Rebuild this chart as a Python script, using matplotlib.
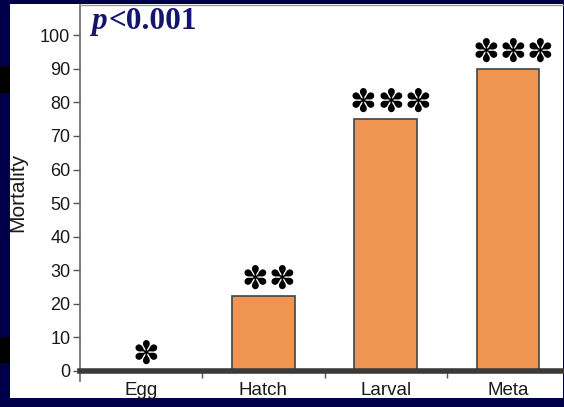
import matplotlib
matplotlib.use("Agg")
import matplotlib.pyplot as plt
from matplotlib.patches import Rectangle

# Data
stages = ["Egg", "Hatch", "Larval", "Meta"]
mortality = [0, 22.3, 75, 90]
stars = [1, 2, 3, 3]
y_ticks = list(range(0, 101, 10))
p_label = "<0.001"

W, H = 564, 407
fig = plt.figure(figsize=(W / 100, H / 100), dpi=100)
fig.patch.set_facecolor("#00004a")

# white panel and the two dark stripes on the left border
fig.patches.append(Rectangle((10 / W, 1 - 398 / H), 553 / W, 394 / H,
                             transform=fig.transFigure, facecolor="white",
                             edgecolor="none", zorder=-2))
for top, bot in [(66, 93), (337, 363)]:
    fig.patches.append(Rectangle((0, 1 - bot / H), 10 / W, (bot - top) / H,
                                 transform=fig.transFigure, facecolor="black",
                                 edgecolor="none", zorder=-2))

# axes: y=0 at 371px, 100 at 35px
ax = fig.add_axes([80 / W, 1 - 381 / H, 489 / W, 376 / H])
ax.set_facecolor("none")
ax.set_xlim(-0.5, 3.5)
ax.set_ylim(-3, 109)

x = list(range(len(stages)))
ax.bar(x, mortality, width=0.51, color="#ef9551", edgecolor="#444444",
       linewidth=1.2, zorder=2)

for xi, val, n in zip(x, mortality, stars):
    for k in range(n):
        dx = 3.5 + (k - (n - 1) / 2) * 19.5
        ax.annotate("\u273d", xy=(xi, val), xytext=(dx, 0),
                    textcoords="offset points", ha="center", va="bottom",
                    fontsize=23, color="black", family="DejaVu Sans", zorder=3)

# spines
ax.spines["bottom"].set_position(("data", 0))
ax.spines["bottom"].set_linewidth(4)
ax.spines["bottom"].set_color("#3a3a3a")
ax.spines["bottom"].set_zorder(4)
ax.spines["left"].set_linewidth(1.2)
ax.spines["left"].set_color("#666666")
ax.spines["top"].set_linewidth(1)
ax.spines["top"].set_color("#999999")
ax.spines["right"].set_visible(False)

ax.set_yticks(y_ticks)
ax.tick_params(axis="y", direction="out", length=5, width=1, color="#555555",
               pad=2, labelsize=13, labelcolor="#1a1a1a")
ax.set_xticks(x)
ax.set_xticklabels(stages)
ax.set_xticks([0.5, 1.5, 2.5], minor=True)
ax.tick_params(axis="x", which="major", length=0, pad=8, labelsize=13.5,
               labelcolor="#1a1a1a")
ax.tick_params(axis="x", which="minor", direction="out", length=5, width=1,
               color="#555555")
for lab in ax.get_xticklabels() + ax.get_yticklabels():
    lab.set_family("Liberation Sans")

fig.text(18 / W, 1 - 192 / H, "Mortality", rotation=90, ha="center",
         va="center", fontsize=15, color="#1a1a1a", family="Liberation Sans")

# p-value label
p_txt = fig.text(91 / W, 1 - 36 / H, "p", ha="left", va="bottom", fontsize=22.5,
                 color="#14146e", family="Liberation Serif", style="italic",
                 weight="bold")
ax.annotate(p_label, xy=(1, 0), xycoords=p_txt, xytext=(1, 0),
            textcoords="offset points", ha="left", va="bottom", fontsize=22.5,
            color="#14146e", family="Liberation Serif", weight="bold")

fig.savefig("out.png", dpi=100, facecolor=fig.get_facecolor())
